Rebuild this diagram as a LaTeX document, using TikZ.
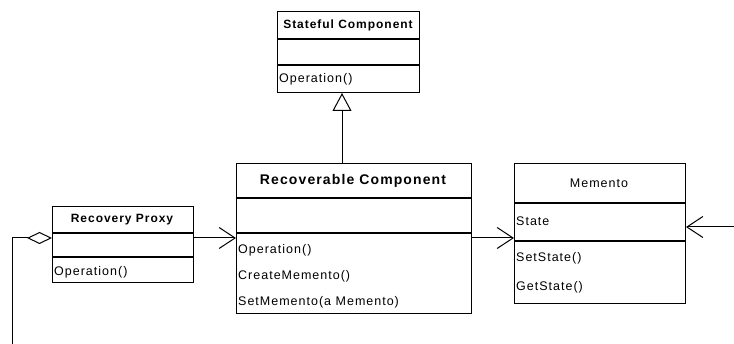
\documentclass[tikz,border=0pt]{standalone}
\usepackage{fontspec}
\setmainfont{Liberation Sans}
\newfontfamily\umlfont[LetterSpace=8]{Liberation Sans}
\usetikzlibrary{arrows.meta,positioning,calc}

\tikzset{
  classbox/.style={draw, line width=1pt, anchor=north west, inner sep=0pt},
  divider/.style={line width=1.3pt},
  classname/.style={font=\umlfont\bfseries\fontsize{12}{14}\selectfont},
  member/.style={anchor=west, inner sep=1pt, font=\umlfont\fontsize{12.5}{14}\selectfont},
  assoc/.style={-{Straight Barb[length=16pt,width=21pt]}, line width=1pt},
}

\begin{document}
\begin{tikzpicture}[x=1pt, y=-1pt]
  \useasboundingbox (0,0) rectangle (734,344);

  % stateful component
  \node[classbox, minimum width=142pt, minimum height=81pt] (sc) at (277,11) {};
  \draw[divider] (277,39) -- (419,39);
  \draw[divider] (277,65) -- (419,65);
  \node[classname] (scname) at (348,25) {Stateful Component};
  \node[member] (scop) at (278,79) {Operation()};

  % recovery proxy
  \node[classbox, minimum width=141pt, minimum height=76pt] (rp) at (52,206) {};
  \draw[divider] (52,233) -- (193,233);
  \draw[divider] (52,257) -- (193,257);
  \node[classname] (rpname) at (122,220) {Recovery Proxy};
  \node[member] (rpop) at (53,272) {Operation()};

  % recoverable component
  \node[classname, font=\umlfont\bfseries\fontsize{14}{16}\selectfont] (rcname) at (353,181) {Recoverable Component};
  \node[classbox, minimum width=235pt, minimum height=150pt] (rc) at (236,163) {};
  \draw[divider] (236,198) -- (471,198);
  \draw[divider] (236,233) -- (471,233);
  \node[member] (rcop) at (237,250) {Operation()};
  \node[member] (rccreate) at (237,276) {CreateMemento()};
  \node[member] (rcset) at (237,302) {SetMemento(a Memento)};

  % memento
  \node[classbox, minimum width=171pt, minimum height=140pt] (mem) at (514,163) {};
  \draw[divider] (514,203) -- (685,203);
  \draw[divider] (514,241) -- (685,241);
  \node[classname, font=\umlfont\fontsize{12.5}{14}\selectfont] (memname) at (599,183) {Memento};
  \node[member] (memstate) at (515,221) {State};
  \node[member] (memset) at (515,258) {SetState()};
  \node[member] (memget) at (515,287) {GetState()};

  % generalization
  \coordinate (gen) at (342,163);
  \draw[-{Triangle[open,length=18pt,width=19pt]}, line width=1pt] (gen) -- (gen |- sc.south);

  % associations
  \coordinate (rpport) at (193,238);
  \coordinate (rcport) at (471,238);
  \coordinate (caretaker) at (734,227);
  \coordinate (client) at (12,344);
  \draw[assoc] (rpport) -- (rpport -| rc.west);
  \draw[assoc] (rcport) -- (rcport -| mem.west);
  \draw[assoc] (caretaker) -- (caretaker -| mem.east);
  \draw[{Diamond[open,length=25pt,width=12pt]}-, line width=1pt] (rpport -| rp.west) -- (rpport -| client) -- (client);
\end{tikzpicture}
\end{document}
